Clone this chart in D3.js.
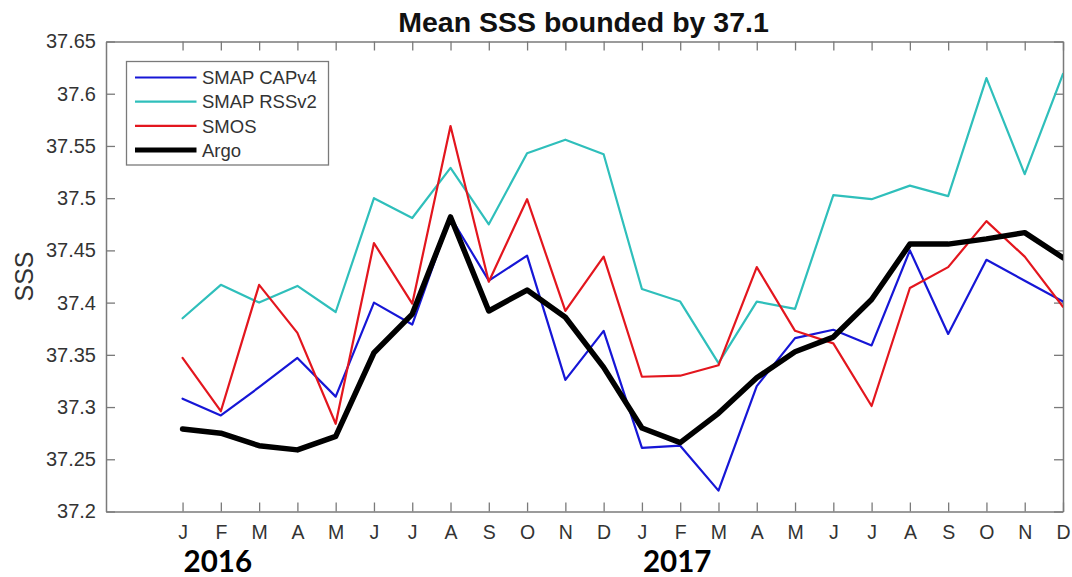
<!DOCTYPE html>
<html>
<head>
<meta charset="utf-8">
<script src="https://cdn.jsdelivr.net/npm/d3@7/dist/d3.min.js"></script>
<style>
  html, body { margin: 0; padding: 0; background: #fff; }
  svg { display: block; font-family: "Liberation Sans", Arial, Helvetica, sans-serif; }
</style>
</head>
<body>
<svg id="chart" width="1072" height="577"></svg>
<script>
// Monthly mean sea surface salinity, Jan 2016 – Dec 2017
const months = ["J","F","M","A","M","J","J","A","S","O","N","D",
                "J","F","M","A","M","J","J","A","S","O","N","D"];
const years = ["2016", "2017"];
const yearStartIndex = [1, 13];

const yTicks = [37.2, 37.25, 37.3, 37.35, 37.4, 37.45, 37.5, 37.55, 37.6, 37.65];
const yTickLabels = ["37.2","37.25","37.3","37.35","37.4","37.45","37.5","37.55","37.6","37.65"];

const smapCAPv4 = [37.308, 37.292, 37.319, 37.347, 37.310, 37.400, 37.379, 37.482, 37.421, 37.445, 37.326, 37.373,
                   37.261, 37.263, 37.220, 37.320, 37.366, 37.374, 37.359, 37.450, 37.370, 37.441, 37.421, 37.401];
const smapRSSv2 = [37.385, 37.417, 37.400, 37.416, 37.391, 37.500, 37.481, 37.529, 37.475, 37.543, 37.556, 37.542,
                   37.413, 37.401, 37.342, 37.401, 37.394, 37.503, 37.499, 37.512, 37.502, 37.615, 37.523, 37.619];
const smos      = [37.347, 37.296, 37.417, 37.371, 37.284, 37.457, 37.399, 37.569, 37.420, 37.499, 37.392, 37.444,
                   37.329, 37.330, 37.340, 37.434, 37.373, 37.361, 37.301, 37.414, 37.434, 37.478, 37.444, 37.396];
const argo      = [37.279, 37.275, 37.263, 37.259, 37.272, 37.352, 37.389, 37.482, 37.392, 37.412, 37.386, 37.338,
                   37.280, 37.266, 37.294, 37.328, 37.353, 37.367, 37.403, 37.456, 37.456, 37.461, 37.467, 37.443];

const seriesNames = ["SMAP CAPv4", "SMAP RSSv2", "SMOS", "Argo"];
const seriesData = [smapCAPv4, smapRSSv2, smos, argo];
const seriesColors = ["#1616d6", "#2fbfbb", "#e3161e", "#000000"];
const seriesWidths = [2.2, 2.2, 2.2, 5.5];

const svg = d3.select("#chart");
const plotLeft = 106, plotRight = 1063, plotTop = 41.5, plotBottom = 511.5;
const axisColor = "#7a7a7a";
const textColor = "#333333";

const x = d3.scaleLinear().domain([-2, 23]).range([plotLeft, plotRight]);
const y = d3.scaleLinear().domain([37.2, 37.65]).range([plotBottom, plotTop]);

// clip lines to the axes box
svg.append("defs").append("clipPath").attr("id", "plotClip")
  .append("rect").attr("x", plotLeft).attr("y", plotTop)
  .attr("width", plotRight - plotLeft).attr("height", plotBottom - plotTop);

// axes (ticks point inward, mirrored on top and right)
const xTickVals = d3.range(months.length);
const gB = svg.append("g").attr("transform", `translate(0,${plotBottom})`)
  .call(d3.axisBottom(x).tickValues(xTickVals).tickFormat(i => months[i])
        .tickSizeInner(-9).tickSizeOuter(0).tickPadding(14));
const gT = svg.append("g").attr("transform", `translate(0,${plotTop})`)
  .call(d3.axisTop(x).tickValues(xTickVals).tickFormat("")
        .tickSizeInner(-9).tickSizeOuter(0));
const gL = svg.append("g").attr("transform", `translate(${plotLeft},0)`)
  .call(d3.axisLeft(y).tickValues(yTicks).tickFormat((d, i) => yTickLabels[i])
        .tickSizeInner(-9).tickSizeOuter(0).tickPadding(10));
const gR = svg.append("g").attr("transform", `translate(${plotRight},0)`)
  .call(d3.axisRight(y).tickValues(yTicks).tickFormat("")
        .tickSizeInner(-9).tickSizeOuter(0));

[gB, gT, gL, gR].forEach(g => {
  g.select(".domain").attr("stroke", axisColor).attr("stroke-width", 1.5);
  g.selectAll(".tick line").attr("stroke", axisColor).attr("stroke-width", 1.3);
  g.selectAll(".tick text").attr("fill", textColor)
    .style("font-family", '"Liberation Sans", Arial, sans-serif');
});
gB.selectAll(".tick text").style("font-size", "19.5px");
gL.selectAll(".tick text").style("font-size", "20px");

// series lines
const line = d3.line().x((d, i) => x(i)).y(d => y(d));
const plot = svg.append("g").attr("clip-path", "url(#plotClip)");
seriesData.forEach((data, k) => {
  plot.append("path")
    .datum(data)
    .attr("d", line)
    .attr("fill", "none")
    .attr("stroke", seriesColors[k])
    .attr("stroke-width", seriesWidths[k])
    .attr("stroke-linejoin", "round")
    .attr("stroke-linecap", "round");
});

// title and axis label
svg.append("text")
  .attr("x", (plotLeft + plotRight) / 2 - 1).attr("y", 32)
  .attr("text-anchor", "middle")
  .style("font-size", "28.5px").style("font-weight", "bold")
  .attr("fill", "#111")
  .text("Mean SSS bounded by 37.1");

svg.append("text")
  .attr("transform", `translate(33,${(plotTop + plotBottom) / 2}) rotate(-90)`)
  .attr("text-anchor", "middle")
  .style("font-size", "25px")
  .attr("fill", textColor)
  .text("SSS");

// year labels under the month axis
svg.selectAll(".year").data(years).enter().append("text")
  .attr("class", "year")
  .attr("x", (d, i) => x(yearStartIndex[i]) - 3)
  .attr("y", 572)
  .attr("text-anchor", "middle")
  .style("font-family", "Lato, 'Open Sans', sans-serif")
  .style("font-size", "29.5px").style("font-weight", "bold")
  .attr("fill", "#000")
  .text(d => d);

// legend
const lg = svg.append("g");
lg.append("rect")
  .attr("x", 126.5).attr("y", 61.5).attr("width", 202).attr("height", 103.5)
  .attr("fill", "#fff").attr("stroke", axisColor).attr("stroke-width", 1.3);
seriesNames.forEach((name, k) => {
  const ly = 77.5 + k * 24.2;
  lg.append("line")
    .attr("x1", 135).attr("x2", 196.5).attr("y1", ly).attr("y2", ly)
    .attr("stroke", seriesColors[k]).attr("stroke-width", k === 3 ? 5 : 2.2);
  lg.append("text")
    .attr("x", 202).attr("y", ly).attr("dy", "0.36em")
    .style("font-size", "18.5px")
    .attr("fill", textColor)
    .text(name);
});
</script>
</body>
</html>
